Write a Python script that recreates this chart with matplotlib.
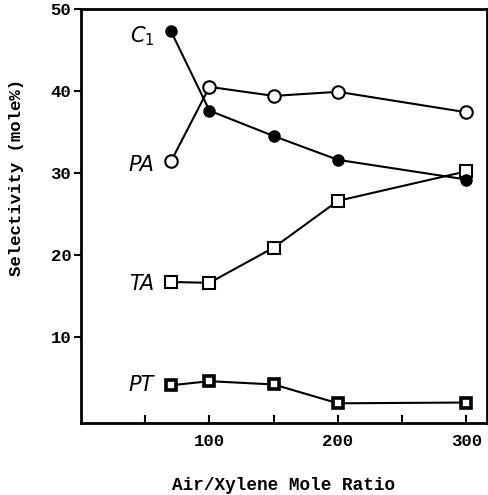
import matplotlib
matplotlib.use("Agg")
import matplotlib.pyplot as plt

# Air/Xylene mole ratio for each point
ratio = [70, 100, 150, 200, 300]

# selectivity (mole%)
c1 = [47.3, 37.6, 34.5, 31.6, 29.2]
pa = [31.4, 40.5, 39.4, 39.9, 37.4]
ta = [16.7, 16.6, 20.9, 26.6, 30.2]
pt = [4.1, 4.6, 4.2, 1.9, 2.0]

series_labels = ['$C_1$', 'PA', 'TA', 'PT']

x_major = [100, 200, 300]
x_minor = [50, 150, 250]
y_major = [10, 20, 30, 40, 50]

fig = plt.figure(figsize=(4.89, 4.95), dpi=100)
ax = fig.add_axes([81 / 489, 1 - 423 / 495, 406 / 489, 414 / 495])

lw = 1.5
ax.plot(ratio, pa, color='black', linewidth=lw, marker='o', markersize=9,
        markerfacecolor='white', markeredgecolor='black', markeredgewidth=1.5, zorder=3)
ax.plot(ratio, c1, color='black', linewidth=lw, marker='o', markersize=8,
        markerfacecolor='black', markeredgecolor='black', zorder=4)
ax.plot(ratio, ta, color='black', linewidth=lw, marker='s', markersize=8.5,
        markerfacecolor='white', markeredgecolor='black', markeredgewidth=1.5, zorder=3)
ax.plot(ratio, pt, color='black', linewidth=lw, marker='s', markersize=7,
        markerfacecolor='white', markeredgecolor='black', markeredgewidth=2.6, zorder=3)

# curve names placed to the left of the first point
label_y = [c1[0] - 0.6, pa[0] - 0.4, ta[0] - 0.2, pt[0]]
for name, yv in zip(series_labels, label_y):
    ax.text(ratio[0] - 13, yv, name, ha='right', va='center', fontsize=15,
            style='italic', family='DejaVu Sans')

ax.set_xlim(0, 316)
ax.set_ylim(-0.5, 50)

ax.set_xticks(x_major)
ax.set_xticks(x_minor, minor=True)
ax.set_yticks(y_major)

for s in ax.spines.values():
    s.set_linewidth(2)

ax.tick_params(axis='x', which='both', direction='in', length=6, width=1.5, pad=8)
ax.tick_params(axis='y', direction='out', length=5, width=1.5, pad=2)

for lab in ax.get_xticklabels() + ax.get_yticklabels():
    lab.set_family('Liberation Mono')
    lab.set_fontweight('bold')
    lab.set_fontsize(12.5)

ax.set_xlabel('Air/Xylene Mole Ratio', family='Liberation Mono', fontweight='bold',
              fontsize=12.8, labelpad=20)
ax.set_ylabel('Selectivity (mole%)', family='Liberation Mono', fontweight='bold',
              fontsize=12.5)
ax.yaxis.set_label_coords(-0.14, 0.594)

fig.savefig('out.png', dpi=100)
